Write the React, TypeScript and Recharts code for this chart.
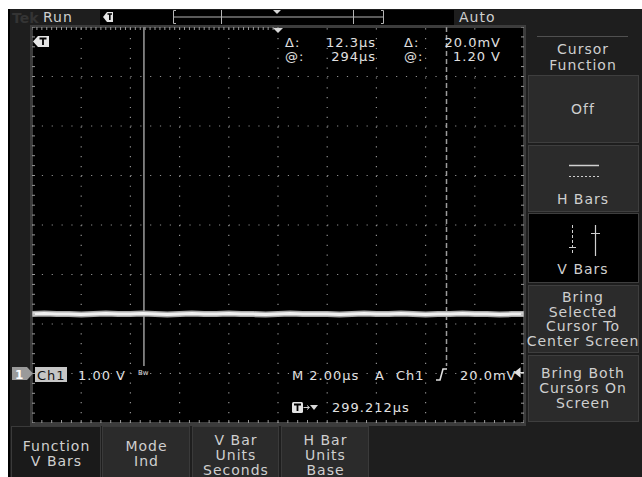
import { LineChart, Line, XAxis, YAxis, ReferenceLine } from 'recharts'

// Ch1 record, 2.00 µs/div over 10 divisions, 1.00 V/div, ground 1 div above the bottom
const timeUs = [
  0, 0.5, 1, 1.5, 2, 2.5, 3, 3.5, 4, 4.5, 5, 5.5, 6, 6.5, 7, 7.5, 8, 8.5, 9, 9.5, 10,
  10.5, 11, 11.5, 12, 12.5, 13, 13.5, 14, 14.5, 15, 15.5, 16, 16.5, 17, 17.5, 18, 18.5, 19, 19.5, 20,
]
const ch1Volts = [
  1.2, 1.21, 1.2, 1.2, 1.19, 1.2, 1.21, 1.2, 1.2, 1.21, 1.2, 1.19, 1.2, 1.21, 1.2, 1.2, 1.21,
  1.2, 1.2, 1.19, 1.2, 1.21, 1.2, 1.2, 1.2, 1.19, 1.2, 1.21, 1.2, 1.2, 1.21, 1.2, 1.19, 1.2,
  1.2, 1.21, 1.2, 1.2, 1.19, 1.2, 1.2,
]
const cursorUs = [4.55, 16.85] // V bars, Δ 12.3 µs

const divTimes = [2, 4, 6, 8, 10, 12, 14, 16, 18]
const divVolts = [0, 1, 2, 3, 4, 5, 6]

const deltaReadout = ['12.3µs', '20.0mV']
const atReadout = ['294µs', '1.20 V']

const sideMenu = [
  ['Off'],
  ['H Bars'],
  ['V Bars'],
  ['Bring', 'Selected', 'Cursor To', 'Center Screen'],
  ['Bring Both', 'Cursors On', 'Screen'],
]
const bottomMenu = [
  ['Function', 'V Bars'],
  ['Mode', 'Ind'],
  ['V Bar', 'Units', 'Seconds'],
  ['H Bar', 'Units', 'Base'],
]

const trace = timeUs.map((t, i) => ({ t, v: ch1Volts[i] }))
// frame ticks every fifth of a division
const minorT = Array.from({ length: 51 }, (_, i) => +(i * 0.4).toFixed(2))
const minorV = Array.from({ length: 41 }, (_, i) => +(-1 + i * 0.2).toFixed(2))

const FONT = '"DejaVu Sans", Verdana, sans-serif'
const TXT = '#cfcfcf'
const BTN = '#2b2b2b'
const GRID = '#8e8e8e'

// tick={false} would drop the tick lines too, so render an empty label instead
const noLabel = () => <g />

const frameAxis = {
  mirror: true,
  tick: noLabel,
  tickSize: 3,
  interval: 0 as const,
  allowDataOverflow: true,
  axisLine: { stroke: '#7a7a7a' },
  tickLine: { stroke: '#9a9a9a' },
}

function Lines({ x, y0, step, lines, size = 14 }: { x: number; y0: number; step: number; lines: string[]; size?: number }) {
  return (
    <>
      {lines.map((s, i) => (
        <text key={i} x={x} y={y0 + i * step} textAnchor="middle" fontSize={size} letterSpacing={1} fill={TXT}>
          {s}
        </text>
      ))}
    </>
  )
}

export default function App() {
  const sideBoxes = [
    { y: 75, h: 67, base: [114], step: 0 },
    { y: 145, h: 66, base: [204], step: 0 },
    { y: 213, h: 69, base: [274], step: 0 },
    { y: 285, h: 67, base: [302], step: 14.5 },
    { y: 355, h: 66, base: [378], step: 15 },
  ]
  const bottomBoxes = [
    { x: 11, w: 89, y0: 451, step: 15 },
    { x: 102, w: 87, y0: 451, step: 15 },
    { x: 192, w: 86, y0: 445, step: 15 },
    { x: 281, w: 87, y0: 445, step: 15 },
  ]

  return (
    <div style={{ position: 'absolute', left: 0, top: 0, width: 642, height: 477, background: '#fff', fontFamily: FONT }}>
      {/* bezel, buttons */}
      <svg width={642} height={477} style={{ position: 'absolute', left: 0, top: 0 }}>
        <rect x={8} y={9} width={634} height={468} fill="#1e1e1e" />
        <rect x={8} y={9} width={2} height={468} fill="#000" />
        <rect x={100} y={10} width={354} height={16} fill="#000" />
        <rect x={30} y={25} width={496} height={401} fill="#3c3c3c" />
        {sideBoxes.map((b, i) => (
          <rect key={i} x={528.5} y={b.y + 0.5} width={110} height={b.h} fill={i === 2 ? '#000' : BTN} stroke="#3e3e3e" />
        ))}
        {bottomBoxes.map((b, i) => (
          <rect key={i} x={b.x + 0.5} y={426.5} width={b.w} height={52} fill={i === 0 ? '#1a1a1a' : BTN} stroke="#3a3a3a" />
        ))}
      </svg>

      <div style={{ position: 'absolute', left: 32, top: 27, width: 492, height: 396, background: '#000' }}>
        <LineChart width={492} height={396} data={trace} margin={{ top: 0, right: 0, bottom: 0, left: 0 }}>
          <XAxis dataKey="t" type="number" domain={[0, 20]} ticks={minorT} {...frameAxis} />
          <XAxis xAxisId="top" orientation="top" type="number" domain={[0, 20]} ticks={minorT} {...frameAxis} />
          <YAxis type="number" domain={[-1, 7]} ticks={minorV} {...frameAxis} />
          <YAxis yAxisId="right" orientation="right" type="number" domain={[-1, 7]} ticks={minorV} {...frameAxis} />
          {divTimes.map((t) => (
            <ReferenceLine key={'t' + t} x={t} stroke={GRID} strokeWidth={1.2} strokeDasharray="1.2 8.64" />
          ))}
          {divVolts.map((v) => (
            <ReferenceLine key={'v' + v} y={v} stroke={GRID} strokeWidth={1.2} strokeDasharray="1.2 8.64" />
          ))}
          <ReferenceLine
            segment={[{ x: cursorUs[0], y: 7 }, { x: cursorUs[0], y: 0.15 }]}
            stroke="#9c9c9c"
            strokeWidth={1.5}
          />
          <ReferenceLine
            segment={[{ x: cursorUs[1], y: 7 }, { x: cursorUs[1], y: 0.15 }]}
            stroke="#9c9c9c"
            strokeWidth={1.5}
            strokeDasharray="5 3"
          />
          <Line dataKey="v" stroke="#a8a8a8" strokeWidth={6} dot={false} isAnimationActive={false} />
          <Line dataKey="v" stroke="#f0f0f0" strokeWidth={3} dot={false} isAnimationActive={false} />
        </LineChart>
      </div>

      {/* readouts and labels */}
      <svg width={642} height={477} style={{ position: 'absolute', left: 0, top: 0, pointerEvents: 'none' }} fontFamily={FONT}>
        {/* status bar */}
        <text x={12} y={23} fontSize={14} fontWeight="bold" fill="#343434">Tek</text>
        <text x={43} y={22} fontSize={14} letterSpacing={1} fill={TXT}>Run</text>
        <path d="M103,17 L107,12 L113,12 L113,22 L107,22 Z" fill="#e4e4e4" />
        <path d="M107.5,14 H112 M109.8,14 V20" stroke="#000" strokeWidth={1.6} />
        <g stroke="#b4b4b4" fill="none">
          <path d="M176,10.5 H173.5 V23.5 H176" />
          <path d="M381,10.5 H383.5 V23.5 H381" />
          <path d="M174,17 H383" />
          <path d="M221.5,10 V24 M353.5,10 V24" />
        </g>
        <path d="M273,10 L281,10 L277,14 Z" fill="#d8d8d8" />
        <text x={459} y={22} fontSize={14} letterSpacing={1} fill={TXT}>Auto</text>

        {/* graticule markers */}
        <path d="M33,41.5 L38,36 L49,36 L49,47 L38,47 Z" fill="#e4e4e4" />
        <path d="M39.5,38.5 H46.5 M43,38.5 V45" stroke="#000" strokeWidth={1.8} />
        <path d="M273,28 L283,28 L278,33 Z" fill="#d8d8d8" />

        {/* cursor readout */}
        <g fontSize={13} letterSpacing={1} fill="#e0e0e0">
          <text x={285} y={47}>Δ:</text>
          <text x={376} y={47} textAnchor="end">{deltaReadout[0]}</text>
          <text x={404} y={47}>Δ:</text>
          <text x={501} y={47} textAnchor="end">{deltaReadout[1]}</text>
          <text x={285} y={61}>@:</text>
          <text x={376} y={61} textAnchor="end">{atReadout[0]}</text>
          <text x={404} y={61}>@:</text>
          <text x={501} y={61} textAnchor="end">{atReadout[1]}</text>
        </g>

        {/* channel / timebase readout */}
        <path d="M12,367 L27,367 L33,373.5 L27,380 L12,380 Z" fill="#9a9a9a" />
        <text x={15} y={379} fontSize={12} fontWeight="bold" fill="#fff">1</text>
        <rect x={35} y={367} width={32} height={15} fill="#c6c6c6" />
        <g fontSize={13} letterSpacing={1} fill="#e0e0e0">
          <text x={37} y={380} fill="#111">Ch1</text>
          <text x={78} y={380}>1.00 V</text>
          <text x={138} y={375} fontSize={7} letterSpacing={0}>Bw</text>
          <text x={292} y={380}>M 2.00µs</text>
          <text x={375} y={380}>A</text>
          <text x={396} y={380}>Ch1</text>
          <text x={460} y={380}>20.0mV</text>
          <text x={332} y={412}>299.212µs</text>
        </g>
        <path d="M436,380 H440 L443,369 H447" stroke="#e0e0e0" strokeWidth={1.6} fill="none" />
        <path d="M515,372.5 L520,368.5 V376.5 Z M518,372.5 H524" stroke="#e0e0e0" strokeWidth={1.2} fill="#e0e0e0" />
        <rect x={292} y={402} width={11} height={11} rx={1.5} fill="#e4e4e4" />
        <path d="M294,404.5 H301 M297.5,404.5 V411" stroke="#000" strokeWidth={1.8} />
        <path d="M303.5,407.5 H309 M307,405.5 L309.5,407.5 L307,409.5" stroke="#d0d0d0" strokeWidth={1} fill="none" />
        <path d="M310,405 L318,405 L314,410 Z" fill="#d8d8d8" />

        {/* side menu */}
        <path d="M537,36.5 H628" stroke="#505050" />
        <Lines x={583} y0={53.5} step={16} lines={['Cursor', 'Function']} />
        {sideBoxes.map((b, i) => (
          <Lines key={i} x={583} y0={b.base[0]} step={b.step} lines={sideMenu[i]} />
        ))}
        <path d="M569,165.5 H599" stroke="#d0d0d0" strokeWidth={1.5} />
        <path d="M569,176.5 H599" stroke="#d0d0d0" strokeWidth={1} strokeDasharray="2 2" />
        <path d="M572.5,225 V255" stroke="#d0d0d0" strokeWidth={1} strokeDasharray="3 2" />
        <path d="M569,247.5 H576" stroke="#d0d0d0" />
        <path d="M595.5,225 V256" stroke="#d0d0d0" strokeWidth={1.2} />
        <path d="M591,233.5 H600" stroke="#d0d0d0" />

        {/* bottom menu */}
        {bottomBoxes.map((b, i) => (
          <Lines key={i} x={b.x + b.w / 2 + 1} y0={b.y0} step={b.step} lines={bottomMenu[i]} />
        ))}
      </svg>
    </div>
  )
}
